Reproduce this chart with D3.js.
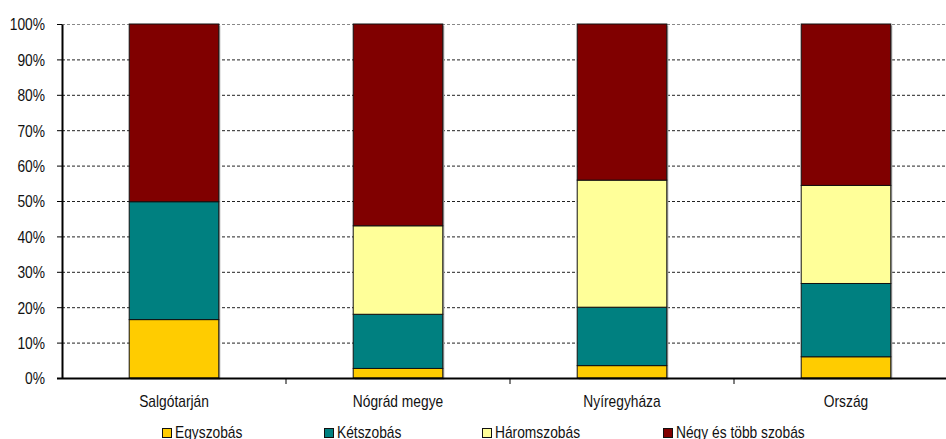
<!DOCTYPE html>
<html>
<head>
<meta charset="utf-8">
<script src="https://cdn.jsdelivr.net/npm/d3@7"></script>
<style>
  body { margin: 0; background: #fff; }
  svg { display: block; font-family: "Liberation Sans", Arial, sans-serif; }
</style>
</head>
<body>
<svg width="946" height="439"></svg>
<script>
// data (percent of dwellings)
var categories = ["Salgótarján", "Nógrád megye", "Nyíregyháza", "Ország"];
var seriesNames = ["Egyszobás", "Kétszobás", "Háromszobás", "Négy és több szobás"];
var egyszobas = [16.5, 2.7, 3.5, 6.0];
var ketszobas = [33.3, 15.3, 16.5, 20.7];
var haromszobas = [0, 25.0, 35.9, 27.7];
var negy = [50.2, 57.0, 44.1, 45.6];
var yTicks = [0, 10, 20, 30, 40, 50, 60, 70, 80, 90, 100];
var colors = ["#FFCC00", "#008080", "#FFFF99", "#800000"];

var svg = d3.select("svg");
var plotLeft = 62, plotRight = 958, plotTop = 24, plotBottom = 378;
var fs = 13.8, sy = 1.17; // text looks vertically stretched in the source

var x = d3.scaleBand().domain(categories).range([plotLeft, plotRight])
    .paddingInner(0.6).paddingOuter(0.3);
var y = d3.scaleLinear().domain([0, 100]).range([plotBottom, plotTop]);

var rows = categories.map(function(c, i) {
  return { cat: c, v: [egyszobas[i], ketszobas[i], haromszobas[i], negy[i]] };
});

// gridlines
svg.append("g").selectAll("line")
  .data(yTicks.filter(function(t) { return t > 0; }))
  .enter().append("line")
    .attr("x1", plotLeft).attr("x2", 946)
    .attr("y1", function(d) { return y(d) + 0.5; })
    .attr("y2", function(d) { return y(d) + 0.5; })
    .attr("stroke", function(d) { return d === 100 ? "#888" : "#222"; })
    .attr("stroke-width", 1)
    .attr("stroke-dasharray", "3,2");

// bars with a grey drop shadow
var bars = svg.append("g");
rows.forEach(function(r) {
  var bx = x(r.cat), bw = x.bandwidth();
  bars.append("rect")
    .attr("x", bx + 1.5).attr("y", y(100) + 1.5)
    .attr("width", bw).attr("height", y(0) - y(100))
    .attr("fill", "#aaa");
  var acc = 0;
  r.v.forEach(function(v, k) {
    if (v <= 0) { return; }
    bars.append("rect")
      .attr("x", bx).attr("y", y(acc + v))
      .attr("width", bw).attr("height", y(acc) - y(acc + v))
      .attr("fill", colors[k])
      .attr("stroke", "#111").attr("stroke-width", 1);
    acc += v;
  });
});

// y axis
var yAxis = svg.append("g")
  .attr("transform", "translate(" + plotLeft + ",0)")
  .call(d3.axisLeft(y).tickValues(yTicks).tickFormat(function(d) { return d + "%"; })
    .tickSize(5).tickSizeOuter(0));
yAxis.select(".domain").attr("stroke", "#000").attr("stroke-width", 2);
yAxis.selectAll(".tick line").attr("stroke", "#000");
yAxis.selectAll(".tick text")
  .attr("font-family", "Liberation Sans, Arial, sans-serif")
  .attr("font-size", fs).attr("fill", "#111")
  .attr("x", -17).attr("y", 0)
  .attr("transform", "scale(1," + sy + ")")
  .attr("dy", (5.8 / sy) + "px");

// x axis line
svg.append("line")
  .attr("x1", plotLeft - 5).attr("x2", 946)
  .attr("y1", plotBottom + 0.5).attr("y2", plotBottom + 0.5)
  .attr("stroke", "#000").attr("stroke-width", 2);

// separators between categories
var step = x.step();
svg.append("g").selectAll("line")
  .data(categories.slice(1))
  .enter().append("line")
    .attr("x1", function(d) { return x(d) - step * 0.3; })
    .attr("x2", function(d) { return x(d) - step * 0.3; })
    .attr("y1", plotBottom).attr("y2", plotBottom + 6)
    .attr("stroke", "#000").attr("stroke-width", 1);

// category labels
svg.append("g").selectAll("text")
  .data(categories)
  .enter().append("text")
    .attr("transform", function(d) {
      return "translate(" + (x(d) + x.bandwidth() / 2) + ",406.5) scale(1," + sy + ")";
    })
    .attr("text-anchor", "middle")
    .attr("font-size", fs).attr("fill", "#111")
    .text(function(d) { return d; });

// legend
var legendX = [162, 324, 482, 663];
var legend = svg.append("g").selectAll("g")
  .data(seriesNames)
  .enter().append("g")
    .attr("transform", function(d, i) { return "translate(" + legendX[i] + ",428)"; });
legend.append("rect")
  .attr("x", 0.5).attr("y", 0.5).attr("width", 9).attr("height", 9)
  .attr("fill", function(d, i) { return colors[i]; })
  .attr("stroke", "#111").attr("stroke-width", 1);
legend.append("text")
  .attr("transform", "translate(13,10.3) scale(1," + sy + ")")
  .attr("font-size", fs).attr("fill", "#111")
  .text(function(d) { return d; });
</script>
</body>
</html>
